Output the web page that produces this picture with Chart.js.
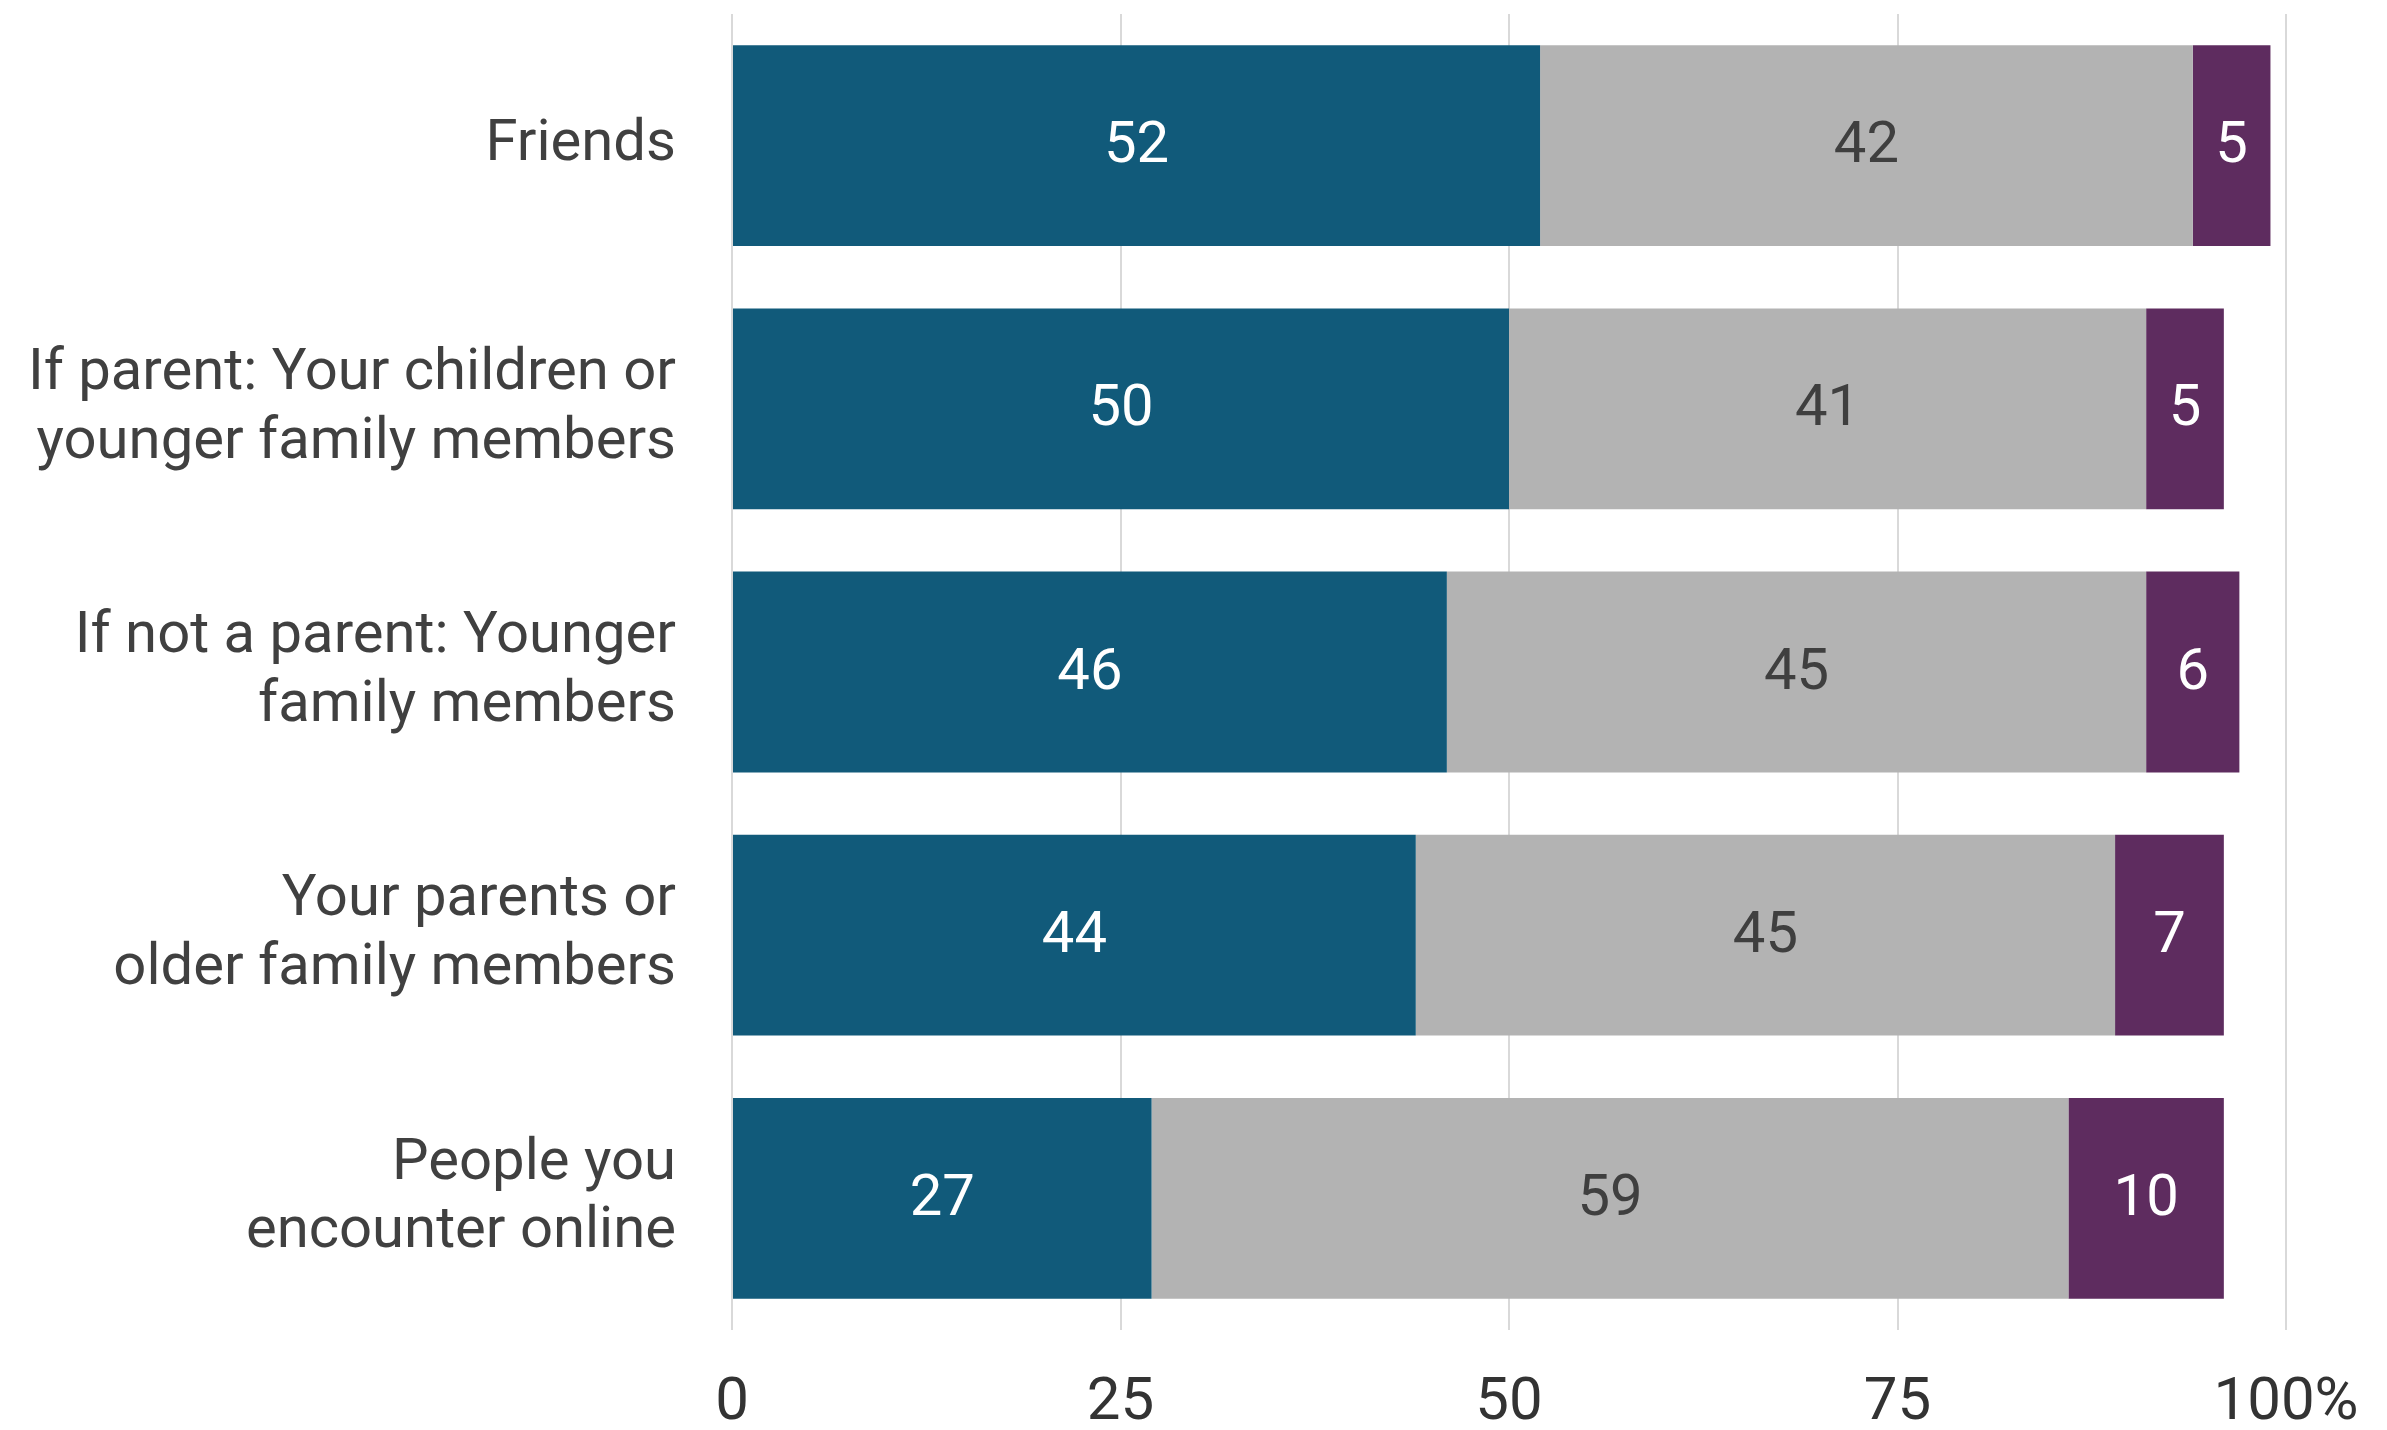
<!DOCTYPE html>
<html>
<head>
<meta charset="utf-8">
<script src="https://cdn.jsdelivr.net/npm/chart.js@4"></script>
<style>
  html, body { margin: 0; padding: 0; background: #fff; }
  canvas { display: block; }
</style>
</head>
<body>
<canvas id="shareChart" width="2387" height="1430"></canvas>
<script>
// Categories (multi-line labels as arrays)
const categories = [
    'Friends',
    ['If parent: Your children or', 'younger family members'],
    ['If not a parent: Younger', 'family members'],
    ['Your parents or', 'older family members'],
    ['People you', 'encounter online']
];

// Stacked shares, in percent
const firstValues = [52, 50, 46, 44, 27];
const secondValues = [42, 41, 45, 45, 59];
const thirdValues = [5, 5, 6, 7, 10];

// Value axis ticks
const xTicks = [0, 25, 50, 75, 100];
const xTickLabels = ['0', '25', '50', '75', '100%'];

const FONT = 'Roboto';

// Writes each segment's value in the middle of its bar
const barLabels = {
    id: 'barLabels',
    afterDatasetsDraw(chart) {
        const ctx = chart.ctx;
        ctx.save();
        ctx.font = '58px ' + FONT;
        ctx.textAlign = 'center';
        ctx.textBaseline = 'middle';
        chart.data.datasets.forEach((ds, i) => {
            chart.getDatasetMeta(i).data.forEach((bar, j) => {
                const p = bar.getProps(['x', 'y', 'base'], true);
                ctx.fillStyle = ds.labelColor;
                ctx.fillText(ds.data[j], (p.x + p.base) / 2, p.y + 2);
            });
        });
        ctx.restore();
    }
};

const ctx = document.getElementById('shareChart').getContext('2d');
new Chart(ctx, {
    type: 'bar',
    data: {
        labels: categories,
        datasets: [{
            data: firstValues,
            backgroundColor: '#115a7a',
            labelColor: '#ffffff'
        }, {
            data: secondValues,
            backgroundColor: '#b3b3b3',
            labelColor: '#3f3f3f'
        }, {
            data: thirdValues,
            backgroundColor: '#5e2c5f',
            labelColor: '#ffffff'
        }]
    },
    options: {
        indexAxis: 'y',
        responsive: false,
        animation: false,
        datasets: {
            bar: {
                categoryPercentage: 1,
                barPercentage: 0.763,
                borderWidth: 0
            }
        },
        layout: {
            padding: { top: 14, right: 101, bottom: 0, left: 0 }
        },
        plugins: {
            legend: { display: false },
            tooltip: { enabled: false }
        },
        scales: {
            x: {
                stacked: true,
                min: 0,
                max: 100,
                afterBuildTicks: (scale) => {
                    scale.ticks = xTicks.map(v => ({ value: v }));
                },
                afterFit: (scale) => {
                    scale.height = 100;
                    scale.paddingLeft = 0;
                    scale.paddingRight = 0;
                },
                grid: {
                    color: '#d9d9d9',
                    lineWidth: 2,
                    drawTicks: false
                },
                border: { display: false },
                ticks: {
                    padding: 38,
                    color: '#333333',
                    font: { family: FONT, size: 60 },
                    callback: (value, index) => xTickLabels[index]
                }
            },
            y: {
                stacked: true,
                afterFit: (scale) => {
                    scale.width = 732;
                    scale.paddingTop = 0;
                    scale.paddingBottom = 0;
                },
                grid: { display: false, drawTicks: false },
                border: { display: false },
                ticks: {
                    padding: 56,
                    color: '#404040',
                    font: { family: FONT, size: 58, lineHeight: 1.18 }
                }
            }
        }
    },
    plugins: [barLabels]
});
</script>
</body>
</html>
